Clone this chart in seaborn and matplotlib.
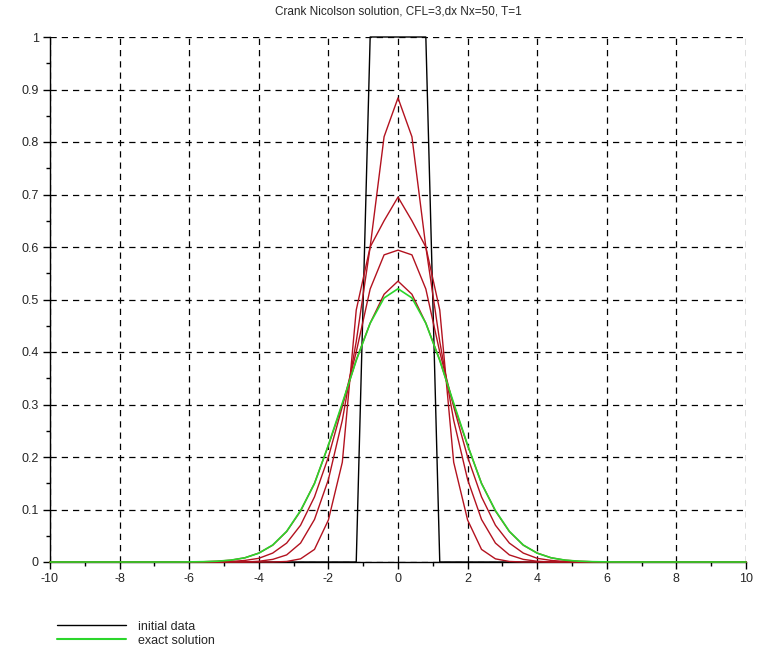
import numpy as np
import pandas as pd
import seaborn as sns
import matplotlib
matplotlib.use("Agg")
import matplotlib.pyplot as plt
from matplotlib.lines import Line2D

# ---- data (half profiles for x >= 0, symmetric about x = 0) ----
x_half = [0.0, 0.4, 0.8, 1.2, 1.6, 2.0, 2.4, 2.8, 3.2, 3.6, 4.0, 4.4, 4.8, 5.2,
          5.6, 6.0, 6.4, 6.8, 7.2, 7.6, 8.0, 8.4, 8.8, 9.2, 9.6, 10.0]
initial_half = [1, 1, 1, 0, 0, 0, 0, 0, 0, 0, 0, 0, 0, 0,
                0, 0, 0, 0, 0, 0, 0, 0, 0, 0, 0, 0]
cn_step1_half = [0.884, 0.81, 0.60, 0.48, 0.19, 0.08, 0.024, 0.006, 0.001, 0, 0, 0, 0, 0,
                 0, 0, 0, 0, 0, 0, 0, 0, 0, 0, 0, 0]
cn_step2_half = [0.695, 0.65, 0.60, 0.42, 0.27, 0.157, 0.081, 0.036, 0.0135, 0.005, 0.0014, 0, 0, 0,
                 0, 0, 0, 0, 0, 0, 0, 0, 0, 0, 0, 0]
cn_step3_half = [0.594, 0.585, 0.52, 0.40, 0.296, 0.200, 0.124, 0.070, 0.036, 0.017, 0.007, 0.003, 0.001, 0,
                 0, 0, 0, 0, 0, 0, 0, 0, 0, 0, 0, 0]
cn_step4_half = [0.535, 0.51, 0.455, 0.385, 0.30, 0.222, 0.15, 0.097, 0.058, 0.032, 0.017, 0.008, 0.0035, 0.0015,
                 0.0005, 0, 0, 0, 0, 0, 0, 0, 0, 0, 0, 0]
exact_half = [0.5205, 0.503, 0.4547, 0.3838, 0.3027, 0.2228, 0.1493, 0.098, 0.0584, 0.0324, 0.0168, 0.008, 0.0036, 0.0015,
              0.0006, 0.0002, 0, 0, 0, 0, 0, 0, 0, 0, 0, 0]

title = "Crank Nicolson solution, CFL=3,dx Nx=50, T=1"
x_ticks = [-10, -8, -6, -4, -2, 0, 2, 4, 6, 8, 10]
y_ticks = [0, 0.1, 0.2, 0.3, 0.4, 0.5, 0.6, 0.7, 0.8, 0.9, 1]
y_tick_labels = ["0", "0.1", "0.2", "0.3", "0.4", "0.5", "0.6", "0.7", "0.8", "0.9", "1"]


def full(vals):
    v = list(vals)
    return v[:0:-1] + v


x_full = [-v for v in x_half[:0:-1]] + x_half

series = [("initial data", initial_half),
          ("cn1", cn_step1_half), ("cn2", cn_step2_half),
          ("cn3", cn_step3_half), ("cn4", cn_step4_half),
          ("exact solution", exact_half)]
frames = []
for name, vals in series:
    frames.append(pd.DataFrame({"x": x_full, "u": full(vals), "curve": name}))
df = pd.concat(frames, ignore_index=True)

sns.set_style("white")
plt.rcParams['font.family'] = ['Liberation Sans', 'DejaVu Sans']

fig = plt.figure(figsize=(7.57, 6.5), dpi=100)
ax = fig.add_axes([50 / 757, 1 - 562 / 650, 696 / 757, 525 / 650])

green = "#2bd62b"
palette = {"initial data": "black", "cn1": "#b3121f", "cn2": "#b3121f",
           "cn3": "#b3121f", "cn4": "#b3121f", "exact solution": green}
for i, (name, _) in enumerate(series):
    sub = df[df["curve"] == name]
    sns.lineplot(data=sub, x="x", y="u", ax=ax, color=palette[name],
                 linewidth=1.0 if name != "exact solution" else 1.2,
                 estimator=None, sort=False, legend=False,
                 zorder=3 + i, clip_on=False)

ax.set_xlim(-10, 10)
ax.set_ylim(0, 1)
ax.set_xticks(x_ticks)
ax.set_xticklabels([str(t) for t in x_ticks])
ax.set_yticks(y_ticks)
ax.set_yticklabels(y_tick_labels)
ax.set_xticks(np.arange(-9, 10, 2), minor=True)
ax.set_yticks(np.arange(0.05, 1.0, 0.1), minor=True)
ax.set_xlabel("")
ax.set_ylabel("")

ax.grid(True, which="major", color="black", linestyle=(0, (5, 4)), linewidth=0.9)
ax.set_axisbelow(True)
for s in ["top", "right"]:
    ax.spines[s].set_visible(False)
for s in ["left", "bottom"]:
    ax.spines[s].set_color("black")
    ax.spines[s].set_linewidth(1.0)
    ax.spines[s].set_zorder(2.5)
ax.tick_params(which="major", direction="out", length=5, width=1, color="black",
               labelsize=9, bottom=True, left=True)
ax.tick_params(which="minor", direction="out", length=3, width=1, color="black",
               bottom=True, left=True)
ax.tick_params(axis="x", pad=3)
ax.tick_params(axis="y", pad=3)

fig.text(398 / 757, 1 - 12 / 650, title, ha="center", va="center", fontsize=8.5)

handles = [Line2D([], [], color="black", linewidth=1.0),
           Line2D([], [], color=green, linewidth=1.5)]
fig.legend(handles, ["initial data", "exact solution"], loc="upper left",
           bbox_to_anchor=(48 / 757, 1 - 612 / 650), frameon=False, fontsize=9,
           handlelength=5.5, labelspacing=0.15, handletextpad=1.0, borderpad=0.2)

fig.savefig("out.png", dpi=100)
